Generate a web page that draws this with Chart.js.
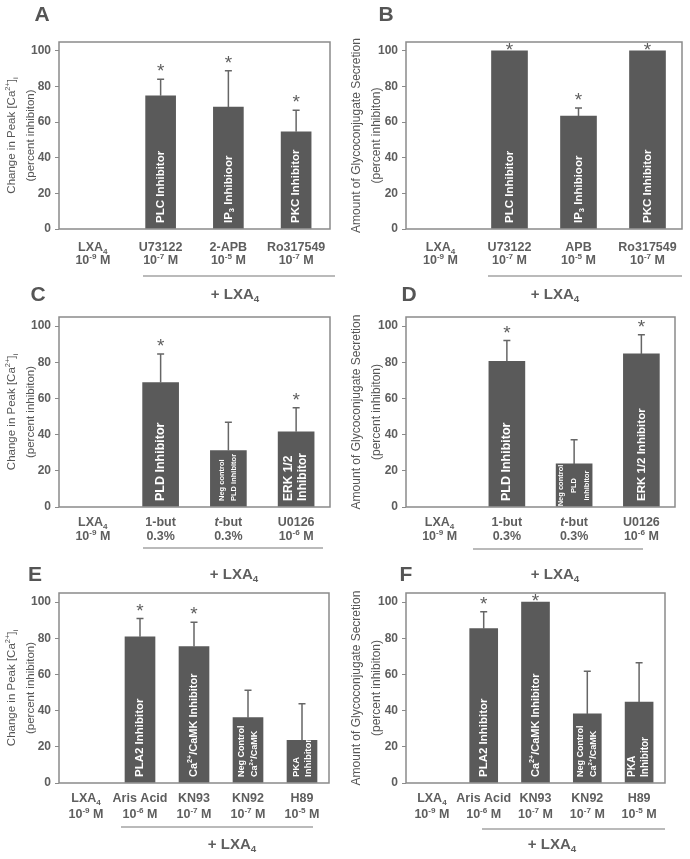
<!DOCTYPE html>
<html>
<head>
<meta charset="utf-8">
<script src="https://cdn.jsdelivr.net/npm/chart.js@4.4.1/dist/chart.umd.min.js"></script>
<style>
  body { margin: 0; background: #fff; }
  #page { position: relative; width: 690px; height: 859px; overflow: hidden; }
  canvas { position: absolute; }
</style>
</head>
<body>
<div id="page">
  <canvas id="chartA"></canvas>
  <canvas id="chartB"></canvas>
  <canvas id="chartC"></canvas>
  <canvas id="chartD"></canvas>
  <canvas id="chartE"></canvas>
  <canvas id="chartF"></canvas>
</div>
<script>
// ---- data (percent inhibition) ----
// markup: _{..} subscript, ^{..} superscript, ~{..} italic

// Panel A - change in peak [Ca2+]i
const aCategories = [["LXA_{4}", "10^{-9} M"], ["U73122", "10^{-7} M"], ["2-APB", "10^{-5} M"], ["Ro317549", "10^{-7} M"]];
const aValues = [null, 74.8, 68.4, 54.6];
const aErrors = [0, 9.3, 20.4, 12.1];
const aSignificant = [false, true, true, true];
const aBarLabels = [[], ["PLC Inhibitor"], ["IP_{3} Inhibioor"], ["PKC Inhibitor"]];

// Panel B - glycoconjugate secretion
const bCategories = [["LXA_{4}", "10^{-9} M"], ["U73122", "10^{-7} M"], ["APB", "10^{-5} M"], ["Ro317549", "10^{-7} M"]];
const bValues = [null, 100, 63.4, 100];
const bErrors = [0, 0, 4.6, 0];
const bSignificant = [false, true, true, true];
const bBarLabels = [[], ["PLC Inhibitor"], ["IP_{3} Inhibioor"], ["PKC Inhibitor"]];

// Panel C - change in peak [Ca2+]i
const cCategories = [["LXA_{4}", "10^{-9} M"], ["1-but", "0.3%"], ["~{t}-but", "0.3%"], ["U0126", "10^{-6} M"]];
const cValues = [null, 68.8, 31.2, 41.6];
const cErrors = [0, 15.8, 15.6, 13.2];
const cSignificant = [false, true, false, true];
const cBarLabels = [[], ["PLD Inhibitor"], ["Neg control", "PLD inhibitor"], ["ERK 1/2", "Inhibitor"]];

// Panel D - glycoconjugate secretion
const dCategories = [["LXA_{4}", "10^{-9} M"], ["1-but", "0.3%"], ["~{t}-but", "0.3%"], ["U0126", "10^{-6} M"]];
const dValues = [null, 80.5, 23.8, 84.6];
const dErrors = [0, 11.5, 13.4, 10.6];
const dSignificant = [false, true, false, true];
const dBarLabels = [[], ["PLD Inhibitor"], ["Neg control", "PLD", "inhibitor"], ["ERK 1/2 Inhibitor"]];

// Panel E - change in peak [Ca2+]i
const eCategories = [["LXA_{4}", "10^{-9} M"], ["Aris Acid", "10^{-6} M"], ["KN93", "10^{-7} M"], ["KN92", "10^{-7} M"], ["H89", "10^{-5} M"]];
const eValues = [null, 80.8, 75.4, 36.1, 23.6];
const eErrors = [0, 10.1, 13.4, 15.1, 20.2];
const eSignificant = [false, true, true, false, false];
const eBarLabels = [[], ["PLA2 Inhibitor"], ["Ca^{2+}/CaMK Inhibitor"], ["Neg Control", "Ca^{2+}/CaMK"], ["PKA", "Inhibitor"]];

// Panel F - glycoconjugate secretion
const fCategories = [["LXA_{4}", "10^{-9} M"], ["Aris Acid", "10^{-6} M"], ["KN93", "10^{-7} M"], ["KN92", "10^{-7} M"], ["H89", "10^{-5} M"]];
const fValues = [null, 85.3, 100, 38.2, 44.7];
const fErrors = [0, 9.3, 0, 23.6, 21.8];
const fSignificant = [false, true, true, false, false];
const fBarLabels = [[], ["PLA2 Inhibitor"], ["Ca^{2+}/CaMK Inhibitor"], ["Neg Control", "Ca^{2+}/CaMK"], ["PKA", "Inhibitor"]];

const yTicks = [0, 20, 40, 60, 80, 100];
const caTitle = ["Change in Peak [Ca^{2+}]_{i}", "(percent inhibiton)"];
const glycoTitle = ["Amount of Glycoconjugate Secretion", "(percent inhibiton)"];
const groupLabel = "+ LXA_{4}";

// ---- look ----
const FONT = "'Liberation Sans', Arial, sans-serif";
const TEXT = "#5e5e5e";
const BAR = "#5a5a5a";
const FRAME = "#8a8a8a";

// layout per panel: canvas box, plot area, decorations
const panels = [
  { id: "chartA", letter: "A", x: 0, y: 0, w: 345, h: 310, area: [59, 330, 42, 229], bar: 30,
    cats: aCategories, values: aValues, errors: aErrors, sig: aSignificant, inBar: aBarLabels,
    inSize: [0, 11.5, 11.5, 11.5], inGap: [0, 0, 0, 0], inAlign: [],
    title: caTitle, titleSize: 11.5, titleX: [12, 31], letterPos: [42, 15],
    xLab: [248, 13], rule: [143, 335, 276], group: [235, 295] },
  { id: "chartB", letter: "B", x: 345, y: 0, w: 345, h: 310, area: [61, 337, 42, 229], bar: 36,
    cats: bCategories, values: bValues, errors: bErrors, sig: bSignificant, inBar: bBarLabels,
    inSize: [0, 11.5, 11.5, 11.5], inGap: [0, 0, 0, 0], inAlign: [],
    title: glycoTitle, titleSize: 12, titleX: [12, 32], letterPos: [41, 15],
    xLab: [248, 13], rule: [143, 337, 276], group: [210, 295] },
  { id: "chartC", letter: "C", x: 0, y: 280, w: 345, h: 310, area: [59, 330, 37, 227], bar: 36,
    cats: cCategories, values: cValues, errors: cErrors, sig: cSignificant, inBar: cBarLabels,
    inSize: [0, 12.5, 7.5, 12], inGap: [0, 0, 12, 14], inAlign: [],
    title: caTitle, titleSize: 11.5, titleX: [12, 31], letterPos: [38, 15],
    xLab: [243, 14], rule: [143, 323, 268], group: [234, 295] },
  { id: "chartD", letter: "D", x: 345, y: 280, w: 345, h: 310, area: [61, 330, 37, 227], bar: 36,
    cats: dCategories, values: dValues, errors: dErrors, sig: dSignificant, inBar: dBarLabels,
    inSize: [0, 12.5, 7.5, 11.5], inGap: [0, 0, 13, 0], inAlign: [null, null, "center", null],
    title: glycoTitle, titleSize: 12, titleX: [12, 32], letterPos: [64, 15],
    xLab: [243, 14], rule: [128, 298, 269], group: [210, 295] },
  { id: "chartE", letter: "E", x: 0, y: 560, w: 345, h: 299, area: [59, 329, 33, 223], bar: 30,
    cats: eCategories, values: eValues, errors: eErrors, sig: eSignificant, inBar: eBarLabels,
    inSize: [0, 11.5, 11, 9, 9.5], inGap: [0, 0, 0, 13, 12], inAlign: [],
    title: caTitle, titleSize: 11.5, titleX: [12, 31], letterPos: [35, 15],
    xLab: [239, 16], rule: [121, 313, 267], group: [232, 285] },
  { id: "chartF", letter: "F", x: 345, y: 560, w: 345, h: 299, area: [61, 320, 33, 223], bar: 28,
    cats: fCategories, values: fValues, errors: fErrors, sig: fSignificant, inBar: fBarLabels,
    inSize: [0, 11.5, 11, 9, 10], inGap: [0, 0, 0, 13, 13], inAlign: [],
    title: glycoTitle, titleSize: 12, titleX: [12, 32], letterPos: [61, 15],
    xLab: [239, 16], rule: [137, 320, 269], group: [207, 285] }
];

// split a label into plain / sub / sup / italic runs
function parseRich(str) {
  const parts = [];
  const re = /([_^~])\{([^}]*)\}/g;
  let last = 0, m;
  while ((m = re.exec(str))) {
    if (m.index > last) parts.push({ t: str.slice(last, m.index), k: "" });
    parts.push({ t: m[2], k: m[1] });
    last = re.lastIndex;
  }
  if (last < str.length) parts.push({ t: str.slice(last), k: "" });
  return parts;
}

function drawRich(ctx, str, x, y, size, weight, align, color) {
  const parts = parseRich(str);
  const fontFor = p => {
    const small = p.k === "_" || p.k === "^";
    return (p.k === "~" ? "italic " : "") + weight + " " + (small ? size * 0.65 : size) + "px " + FONT;
  };
  let total = 0;
  parts.forEach(p => { ctx.font = fontFor(p); p.w = ctx.measureText(p.t).width; total += p.w; });
  let cx = align === "center" ? x - total / 2 : align === "right" ? x - total : x;
  ctx.fillStyle = color;
  ctx.textAlign = "left";
  ctx.textBaseline = "middle";
  parts.forEach(p => {
    ctx.font = fontFor(p);
    const dy = p.k === "^" ? -size * 0.33 : p.k === "_" ? size * 0.3 : 0;
    ctx.fillText(p.t, cx, y + dy);
    cx += p.w;
  });
  return total;
}

// frame, error bars, asterisks, in-bar labels, axis texts
const decor = {
  id: "decor",
  afterDatasetsDraw(chart) {
    const p = chart.config.options.panel;
    const ctx = chart.ctx;
    const a = chart.chartArea;
    ctx.save();
    ctx.strokeStyle = FRAME;
    ctx.lineWidth = 1.5;
    ctx.strokeRect(a.left, a.top, a.right - a.left, a.bottom - a.top);

    const yScale = chart.scales.y;
    const meta = chart.getDatasetMeta(0);
    meta.data.forEach((bar, i) => {
      const v = p.values[i];
      if (v == null) return;
      const err = p.errors[i];
      const top = yScale.getPixelForValue(v);
      let starY = top - 5;
      if (err > 0) {
        const et = yScale.getPixelForValue(v + err);
        ctx.strokeStyle = "#666";
        ctx.lineWidth = 1.5;
        ctx.beginPath();
        ctx.moveTo(bar.x, top);
        ctx.lineTo(bar.x, et);
        ctx.moveTo(bar.x - 3.5, et);
        ctx.lineTo(bar.x + 3.5, et);
        ctx.stroke();
        starY = et - 12;
      }
      if (p.sig[i]) {
        ctx.fillStyle = TEXT;
        ctx.font = "19px " + FONT;
        ctx.textAlign = "center";
        ctx.textBaseline = "alphabetic";
        ctx.fillText("*", bar.x, starY + 10);
      }
      // rotated label inside the bar
      const lines = p.inBar[i];
      if (lines.length) {
        const size = p.inSize[i];
        const gap = p.inGap[i];
        const bottom = yScale.getPixelForValue(0);
        ctx.save();
        ctx.translate(bar.x, bottom - 6);
        ctx.rotate(-Math.PI / 2);
        if (p.inAlign[i] === "center") {
          const len = bottom - top - 6;
          lines.forEach((ln, k) => drawRich(ctx, ln, len / 2 - 3, (k - (lines.length - 1) / 2) * gap, size, "bold", "center", "#fff"));
        } else {
          lines.forEach((ln, k) => drawRich(ctx, ln, 0, (k - (lines.length - 1) / 2) * gap, size, "bold", "left", "#fff"));
        }
        ctx.restore();
      }
    });

    // category labels (two lines)
    const xScale = chart.scales.x;
    p.cats.forEach((c, i) => {
      const x = xScale.getPixelForValue(i);
      drawRich(ctx, c[0], x, p.xLab[0], 12.5, "bold", "center", TEXT);
      drawRich(ctx, c[1], x, p.xLab[0] + p.xLab[1], 12.5, "bold", "center", TEXT);
    });

    // treatment rule and group label
    ctx.strokeStyle = "#777";
    ctx.lineWidth = 1.2;
    ctx.beginPath();
    ctx.moveTo(p.rule[0], p.rule[2]);
    ctx.lineTo(p.rule[1], p.rule[2]);
    ctx.stroke();
    drawRich(ctx, groupLabel, p.group[0], p.group[1], 15, "bold", "center", TEXT);

    // y title, rotated
    const midY = (a.top + a.bottom) / 2;
    p.title.forEach((t, k) => {
      ctx.save();
      ctx.translate(p.titleX[k], midY);
      ctx.rotate(-Math.PI / 2);
      drawRich(ctx, t, 0, 0, p.titleSize, "normal", "center", "#555");
      ctx.restore();
    });

    // panel letter
    ctx.fillStyle = "#555";
    ctx.font = "bold 21px " + FONT;
    ctx.textAlign = "center";
    ctx.textBaseline = "middle";
    ctx.fillText(p.letter, p.letterPos[0], p.letterPos[1]);
    ctx.restore();
  }
};

panels.forEach(p => {
  const canvas = document.getElementById(p.id);
  canvas.width = p.w;
  canvas.height = p.h;
  canvas.style.left = p.x + "px";
  canvas.style.top = p.y + "px";
  canvas.style.width = p.w + "px";
  canvas.style.height = p.h + "px";
  const [left, right, top, bottom] = p.area;
  new Chart(canvas, {
    type: "bar",
    data: {
      labels: p.cats.map(c => c[0]),
      datasets: [{ data: p.values, backgroundColor: BAR, borderWidth: 0, barThickness: p.bar }]
    },
    options: {
      panel: p,
      responsive: false,
      animation: false,
      devicePixelRatio: 1,
      layout: { padding: { left: 0, right: p.w - right, top: top, bottom: 0 } },
      plugins: { legend: { display: false }, tooltip: { enabled: false } },
      scales: {
        x: {
          ticks: { display: false },
          grid: { display: false },
          border: { display: false },
          afterFit: s => { s.height = p.h - bottom; }
        },
        y: {
          min: 0,
          max: 105,
          afterBuildTicks: s => { s.ticks = yTicks.map(v => ({ value: v })); },
          ticks: { color: TEXT, padding: 4, font: { family: FONT, size: 12, weight: "bold" } },
          grid: { display: true, drawOnChartArea: false, drawTicks: true, tickLength: 4, color: FRAME },
          border: { display: false },
          afterFit: s => { s.width = left; }
        }
      }
    },
    plugins: [decor]
  });
});
</script>
</body>
</html>
